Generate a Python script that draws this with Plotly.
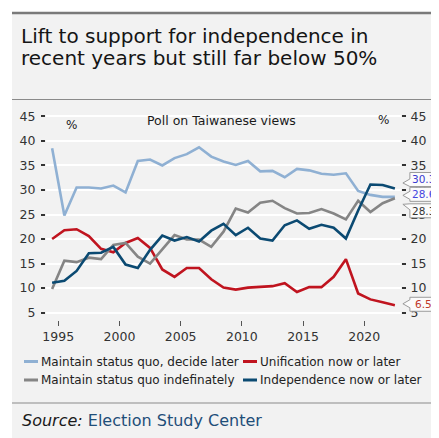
import plotly.graph_objects as go

years = list(range(1994, 2023))
decide_later = [38.5, 24.8, 30.5, 30.5, 30.3, 30.9, 29.5, 35.9, 36.2, 35.0,
                36.5, 37.3, 38.7, 36.8, 35.8, 35.1, 35.9, 33.8, 33.9, 32.6,
                34.3, 34.0, 33.3, 33.1, 33.4, 29.8, 29.0, 28.6, 28.6]
unification = [20.0, 21.8, 22.0, 20.6, 18.0, 17.3, 19.2, 20.2, 18.2, 13.8,
               12.3, 14.1, 14.1, 11.8, 10.1, 9.7, 10.1, 10.3, 10.4, 11.0,
               9.2, 10.2, 10.2, 12.3, 15.9, 8.9, 7.7, 7.1, 6.5]
indefinitely = [9.8, 15.6, 15.3, 16.2, 15.9, 18.8, 19.2, 16.4, 15.0, 18.0,
                20.8, 19.9, 19.9, 18.4, 21.5, 26.2, 25.4, 27.4, 27.8, 26.3,
                25.2, 25.3, 26.1, 25.2, 24.0, 27.8, 25.5, 27.3, 28.3]
independence = [11.1, 11.5, 13.5, 17.1, 17.2, 18.4, 14.8, 14.1, 17.8, 20.7,
                19.7, 20.4, 19.5, 21.7, 23.1, 20.8, 22.3, 20.1, 19.7, 22.8,
                23.8, 22.1, 22.9, 22.3, 20.1, 25.8, 31.1, 31.0, 30.3]

series_names = ["Maintain status quo, decide later", "Unification now or later",
                "Maintain status quo indefinately", "Independence now or later"]
series_values = [decide_later, unification, indefinitely, independence]
series_colors = ["#8fb0d3", "#c0141f", "#858585", "#0b4a72"]
label_colors = ["#4646e0", "#c0392b", "#333333", "#3a3ad0"]
x_ticks = [1995, 2000, 2005, 2010, 2015, 2020]
y_ticks = [5, 10, 15, 20, 25, 30, 35, 40, 45]
title_lines = ["Lift to support for independence in", "recent years but still far below 50%"]
X_RANGE = [1994, 2023]
Y_RANGE = [3.5, 46.5]

OFF = 8  # page body margin offset
W, H = 439 - OFF, 438 - OFF
ML, MR, MT, MB = 38, 38, 101, 118
PW, PH = W - ML - MR, H - MT - MB
FONT = "DejaVu Sans"


def px(x):
    """screen x (page pixels) -> paper fraction"""
    return (x - OFF - ML) / PW


def py(y):
    """screen y (page pixels) -> paper fraction"""
    return (H - MB - (y - OFF)) / PH


def dx(v):
    return (v - X_RANGE[0]) / (X_RANGE[1] - X_RANGE[0])


def dy(v):
    return (v - Y_RANGE[0]) / (Y_RANGE[1] - Y_RANGE[0])


xs = [y + 0.5 for y in years]

fig = go.Figure()
for name, vals, col in zip(series_names, series_values, series_colors):
    fig.add_trace(go.Scatter(x=xs, y=vals, name=name, mode="lines",
                             line=dict(color=col, width=2.6), hoverinfo="skip",
                             showlegend=False))
# right-hand duplicate axis (needs a trace to be drawn)
fig.add_trace(go.Scatter(x=xs, y=independence, yaxis="y2", mode="lines",
                         line=dict(width=0, color="rgba(0,0,0,0)"), hoverinfo="skip",
                         showlegend=False))

shapes = [
    dict(type="rect", xref="paper", yref="paper", x0=px(12), x1=px(W + 12), y0=py(H + 12), y1=py(12),
         fillcolor="#f2f2f2", line=dict(width=0), layer="below"),
    dict(type="line", xref="paper", yref="paper", x0=px(12), x1=px(W + 12), y0=py(13), y1=py(13),
         line=dict(color="#7a7a7a", width=2.5)),
    dict(type="line", xref="paper", yref="paper", x0=px(12), x1=px(W + 12), y0=py(99.5), y1=py(99.5),
         line=dict(color="#8a8a8a", width=1)),
    dict(type="line", xref="paper", yref="paper", x0=px(12), x1=px(W + 12), y0=py(403), y1=py(403),
         line=dict(color="#8a8a8a", width=1.2)),
]
annotations = []

# legend (manual, two columns)
leg_pos = [(24, 361.5), (243, 361.5), (24, 380), (243, 380)]
for name, col, (lx, ly) in zip(series_names, series_colors, leg_pos):
    shapes.append(dict(type="line", xref="paper", yref="paper", x0=px(lx), x1=px(lx + 14),
                       y0=py(ly), y1=py(ly), line=dict(color=col, width=3)))
    annotations.append(dict(xref="paper", yref="paper", x=px(lx + 15), y=py(ly), xanchor="left",
                            yanchor="middle", text=name, showarrow=False,
                            font=dict(family=FONT, size=12, color="#222222")))

# end-value callout tags (offsets in pixels relative to the last point)
box_dy = [-2.5, -1.0, 12.5, -9.0]    # screen offset of box centre (down +)
tip_dy = [-1.5, -1.5, 6.0, -5.5]     # screen offset of pointer tip (down +)
for vals, bdy, tdy, lc in zip(series_values, box_dy, tip_dy, label_colors):
    top, bot = bdy - 7, bdy + 7
    b0 = max(top, min(tdy - 4, bot - 6))
    b1 = min(bot, max(tdy + 4, top + 6))
    pts = [(15, top), (43, top), (43, bot), (15, bot), (15, b1), (8, tdy), (15, b0)]
    path = "M " + " L ".join(f"{a},{-b}" for a, b in pts) + " Z"
    shapes.append(dict(type="path", xref="paper", yref="paper", xsizemode="pixel", ysizemode="pixel",
                       xanchor=dx(xs[-1]), yanchor=dy(vals[-1]), path=path,
                       fillcolor="#fbfbfb", line=dict(color="#9a9a9a", width=1), layer="above"))
    annotations.append(dict(x=xs[-1], y=vals[-1], xref="x", yref="y", text=f"{vals[-1]:.1f}",
                            showarrow=False, xshift=29, yshift=-bdy, xanchor="center", yanchor="middle",
                            font=dict(family=FONT, size=10.5, color=lc)))

for line_text, ly in zip(title_lines, [36, 58]):
    annotations.append(dict(xref="paper", yref="paper", x=px(19), y=py(ly), xanchor="left",
                            yanchor="middle", text=line_text, showarrow=False,
                            font=dict(family=FONT, size=20, color="#151515")))

annotations += [
    dict(xref="paper", yref="paper", x=px(221), y=py(120), xanchor="center", yanchor="middle",
         text="Poll on Taiwanese views", showarrow=False,
         font=dict(family=FONT, size=12.5, color="#1a1a1a")),
    dict(xref="paper", yref="paper", x=px(71.5), y=py(125), xanchor="center", yanchor="middle",
         text="%", showarrow=False, font=dict(family=FONT, size=12, color="#1a1a1a")),
    dict(xref="paper", yref="paper", x=px(383), y=py(120), xanchor="center", yanchor="middle",
         text="%", showarrow=False, font=dict(family=FONT, size=12, color="#1a1a1a")),
    dict(xref="paper", yref="paper", x=px(20), y=py(420), xanchor="left", yanchor="middle",
         text="<i>Source:</i> <span style='color:#1f4e79'>Election Study Center</span>",
         showarrow=False, font=dict(family=FONT, size=16, color="#1a1a1a")),
]

axis_font = dict(family=FONT, size=12.5, color="#333333")
fig.update_layout(
    width=W, height=H,
    margin=dict(l=ML, r=MR, t=MT, b=MB, pad=0, autoexpand=False),
    paper_bgcolor="white", plot_bgcolor="rgba(0,0,0,0)",
    showlegend=False,
    xaxis=dict(range=X_RANGE, tickvals=x_ticks, ticktext=[str(t) for t in x_ticks],
               ticks="outside", ticklen=5, tickwidth=1.2, tickcolor="#555555",
               showgrid=False, zeroline=False, showline=False, tickfont=axis_font),
    yaxis=dict(range=Y_RANGE, tickvals=y_ticks, ticks="outside", ticklen=4, tickwidth=1.5,
               tickcolor="#333333", showgrid=True, gridcolor="#ffffff", gridwidth=1.5,
               zeroline=False, showline=False, tickfont=axis_font, ticklabelstandoff=3),
    yaxis2=dict(range=Y_RANGE, tickvals=y_ticks, overlaying="y", side="right", anchor="x",
                ticks="outside", ticklen=4, tickwidth=1.5, tickcolor="#333333",
                showgrid=False, zeroline=False, showline=False, tickfont=axis_font,
                ticklabelstandoff=2),
    shapes=shapes,
    annotations=annotations,
    hovermode=False,
)

fig.write_html("out.html")
